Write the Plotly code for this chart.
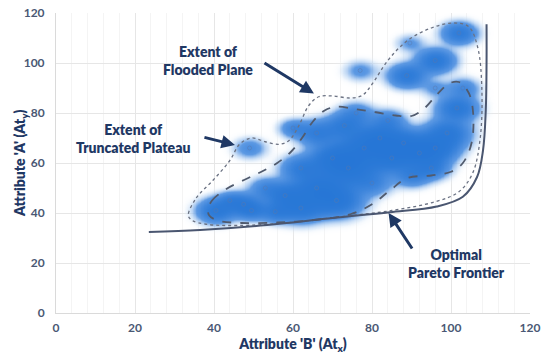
import numpy as np
import plotly.graph_objects as go

# ---- data ----
x_ticks = [0, 20, 40, 60, 80, 100, 120]
y_ticks = [0, 20, 40, 60, 80, 100, 120]

# blob centres (Attribute B, Attribute A), spread and weight
blob_x = [40.5, 47.5, 49.5, 55.5, 44, 49, 53, 58, 62, 66, 71, 74, 78, 70, 62, 66, 73, 82, 85, 88, 92, 96, 99,
          101.5, 103, 80, 90, 95, 84, 76, 60, 77, 88.8, 96, 89.6, 102, 96]
blob_y = [41, 43.5, 41, 40.5, 45, 66, 50, 47, 42, 50, 45, 58, 66, 62, 58, 72, 75, 70, 62, 68, 64, 66, 72,
          82, 90, 52, 55, 58, 77, 80, 74, 97, 95, 101, 108, 112, 90]
blob_s = [3.0, 2.8, 2.4, 2.6, 2.3, 2.6, 2.8, 3.2, 3.6, 4.0, 4.0, 4.5, 4.5, 3.6, 3.2, 3.2, 3.2, 3.6, 3.6, 3.6, 3.6, 3.6, 3.6,
          3.2, 2.6, 3.2, 2.8, 2.8, 2.8, 2.8, 2.3, 2.6, 3.0, 3.0, 2.3, 2.8, 2.3]
blob_w = [1.3, 1.0, 0.8, 0.9, 0.6, 0.5, 0.6, 1.2, 1.3, 1.5, 1.5, 1.6, 1.5, 1.2, 1.0, 1.0, 1.0, 1.2, 1.3, 1.2, 1.3, 1.3, 1.3,
          1.3, 0.6, 0.6, 0.8, 0.9, 0.7, 0.6, 0.6, 0.4, 1.2, 1.3, 0.35, 1.1, 0.35]

flood_x = [33.5, 35.5, 39.7, 44, 46.5, 49.5, 53, 56.5, 59, 61.5, 64, 66.5, 70, 74.5, 77.5, 80, 84, 89, 95, 100.5,
           104.5, 106.8, 107.8, 107.4, 105.5, 102, 96, 85, 72, 58, 46, 38, 34.5, 33.5]
flood_y = [39, 46, 53, 61, 67.5, 70, 68.5, 67.5, 69, 75, 83, 86.5, 86.8, 86, 87, 91.5, 101, 109, 114, 116,
           114.5, 106, 90, 70, 56, 48.5, 44.5, 41, 38.5, 36, 35, 35.5, 37, 39]

plateau_x = [38.5, 39.5, 43, 48, 52, 56, 59.5, 62.5, 65, 68, 71, 76, 81, 86, 90, 93, 96.5, 99.5, 102, 104.5,
             105.6, 105.2, 103, 100, 95, 89, 84.5, 80, 74.5, 66, 56, 47, 41, 38.8, 38.5]
plateau_y = [41.5, 45, 49.5, 53.5, 56.5, 60, 64.5, 70.5, 76.5, 81, 82.5, 81.5, 80.3, 79, 78.8, 81.5, 87.5, 91.8, 92.4, 88,
             80, 68, 60, 56.5, 55, 54, 49, 43.5, 39.5, 37.3, 36.2, 36, 37, 39, 41.5]

pareto_x = [23.5, 36.5, 53.4, 70, 84.5, 96.4, 103, 106.6, 108.1, 108.8, 109, 109]
pareto_y = [32.4, 33.2, 35.2, 38, 40.3, 42.6, 46.5, 54.4, 65, 81, 100, 115.5]

# ---- density surface from blobs ----
gx = np.arange(20, 120.01, 0.4)
gy = np.arange(20, 125.01, 0.4)
GX, GY = np.meshgrid(gx, gy)
S = np.zeros_like(GX)
for bx, by, bs, bw in zip(blob_x, blob_y, blob_s, blob_w):
    S += bw * np.exp(-((GX - bx) ** 2 + (GY - by) ** 2) / (2 * bs ** 2))
Z = 1 - np.exp(-2.2 * S)

NAVY = '#1F3864'
TICK = '#4A5874'
FONT = 'Lato, Open Sans, sans-serif'

fig = go.Figure()
fig.add_trace(go.Heatmap(
    x=gx, y=gy, z=Z, zmin=0, zmax=1, zsmooth='best', showscale=False, hoverinfo='skip',
    colorscale=[[0, 'rgba(255,255,255,0)'], [0.15, 'rgba(200,222,246,0.5)'],
                [0.5, 'rgba(80,145,225,0.92)'], [1, 'rgb(38,118,214)']]))
fig.add_trace(go.Scatter(x=blob_x, y=blob_y, mode='markers', hoverinfo='skip',
                         marker=dict(symbol='circle-open', size=4, color='rgba(90,120,170,0.45)', line=dict(width=1))))
fig.add_trace(go.Scatter(x=flood_x, y=flood_y, mode='lines', line=dict(color='#6B7283', width=1.3, dash='dot',
                                                                       shape='spline', smoothing=1.0), hoverinfo='skip'))
fig.add_trace(go.Scatter(x=plateau_x, y=plateau_y, mode='lines', line=dict(color='#515B6E', width=1.8, dash='dash',
                                                                           shape='spline', smoothing=1.0), hoverinfo='skip'))
fig.add_trace(go.Scatter(x=pareto_x, y=pareto_y, mode='lines', line=dict(color='#4A5670', width=2,
                                                                         shape='spline', smoothing=1.0), hoverinfo='skip'))

txt = dict(family=FONT, size=14, color=NAVY, weight=800)
annos = [
    dict(x=38.5, y=101, text='Extent of<br>Flooded Plane'),
    dict(x=19.5, y=70, text='Extent of<br>Truncated Plateau'),
    dict(x=101.5, y=20, text='Optimal<br>Pareto Frontier'),
]
for a in annos:
    fig.add_annotation(x=a['x'], y=a['y'], text=a['text'], showarrow=False, font=txt, align='center')
arrows = [((52.4, 100.4), (65.3, 87.8)), ((37.2, 70.4), (45.3, 67.2)), ((90.4, 25.2), (84.2, 40.0))]
for (tx, ty), (hx, hy) in arrows:
    fig.add_annotation(x=hx, y=hy, ax=tx, ay=ty, axref='x', ayref='y', xref='x', yref='y', text='',
                       showarrow=True, arrowhead=2, arrowsize=0.9, arrowwidth=3, arrowcolor=NAVY)

# y-axis title placed as rotated text left of the tick labels
fig.add_annotation(xref='paper', yref='paper', x=-0.076, y=0.5, xanchor='center', yanchor='middle',
                   text="Attribute 'A' (At<sub>y</sub>)", textangle=-90, showarrow=False,
                   font=dict(family=FONT, size=14, color=NAVY, weight=800))

fig.update_layout(
    width=546, height=356, margin=dict(l=56, r=16, t=13, b=43),
    paper_bgcolor='white', plot_bgcolor='white', showlegend=False,
    font=dict(family=FONT),
    xaxis=dict(range=[0, 120], tickvals=x_ticks, showgrid=True, gridcolor='#E6E6E6', gridwidth=1,
               minor=dict(dtick=4, showgrid=True, gridcolor='#F4F4F4'), automargin=False,
               zeroline=False, showline=True, linecolor='#DADADA', linewidth=1,
               tickfont=dict(family=FONT, size=12, color=TICK, weight='bold'), ticklabelstandoff=4,
               ticklabeloverflow='allow',
               title=dict(text="Attribute 'B' (At<sub>x</sub>)", font=dict(family=FONT, size=14, color=NAVY, weight=800),
                          standoff=0)),
    yaxis=dict(range=[0, 120], tickvals=y_ticks, showgrid=True, gridcolor='#E6E6E6', gridwidth=1,
               zeroline=False, showline=True, linecolor='#DADADA', linewidth=1, automargin=False,
               tickfont=dict(family=FONT, size=12, color=TICK, weight='bold'), ticklabelstandoff=8,
               ticklabeloverflow='allow'),
)
# remove the browser's default 8px body margin so the figure fills the 546x356 window exactly
fig.write_html('out.html', config={'displayModeBar': False},
               post_script="document.body.style.margin='0';document.body.style.overflow='hidden';")
